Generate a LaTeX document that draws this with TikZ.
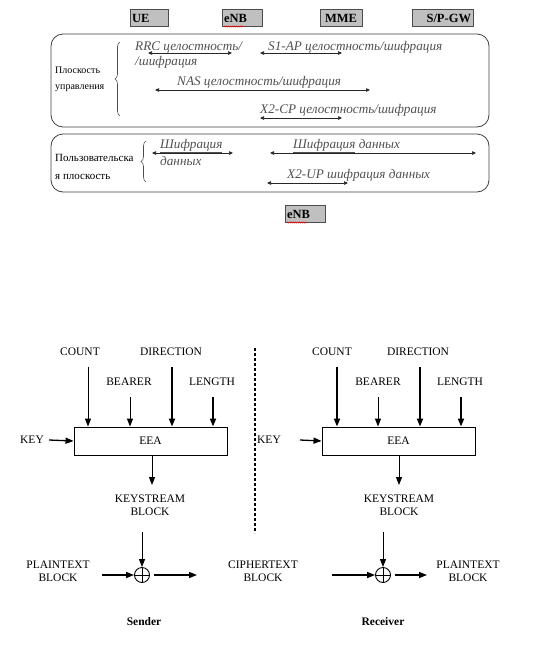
\documentclass[tikz,border=0pt]{standalone}
\usepackage{fontspec}
\setmainfont{Liberation Serif}
\usetikzlibrary{arrows.meta,decorations.pathreplacing,decorations.pathmorphing}
\definecolor{hdrgray}{HTML}{C0C0C0}
\definecolor{lblgray}{HTML}{505050}
\tikzset{
  hdr/.style={draw=black!70,fill=hdrgray,line width=0.8pt,minimum height=17pt,inner sep=2pt,font=\bfseries\fontsize{12.5}{12.5}\selectfont},
  planebox/.style={draw=black!75,line width=0.8pt,rounded corners=12pt},
  side/.style={font=\fontsize{10}{10}\selectfont,anchor=west,inner sep=0pt},
  sideu/.style={font=\fontsize{11}{11}\selectfont,anchor=west,inner sep=0pt},
  ital/.style={font=\itshape\fontsize{13.2}{13.2}\selectfont,text=lblgray,anchor=west,inner sep=0pt},
  darr/.style={{Triangle[length=4pt,width=3.5pt]}-{Triangle[length=4pt,width=3.5pt]},line width=0.7pt,black!85},
  brc/.style={decorate,decoration={brace,amplitude=5pt},line width=0.6pt,black!70},
  bt/.style={font=\fontsize{11.5}{13}\selectfont,align=center,inner sep=0pt},
  eea/.style={draw,line width=0.9pt,minimum width=153pt,minimum height=28pt,font=\fontsize{11.5}{12}\selectfont},
  thinar/.style={-{Triangle[length=8pt,width=6pt]},line width=1pt},
  thickar/.style={-{Triangle[length=8pt,width=6pt]},line width=1.8pt},
  xorc/.style={draw,circle,line width=0.9pt,minimum size=15pt,inner sep=0pt},
  squig/.style={red,line width=0.5pt,decorate,decoration={snake,amplitude=0.6pt,segment length=2pt}},
  role/.style={font=\bfseries\fontsize{11.5}{11.5}\selectfont}
}
\begin{document}
\begin{tikzpicture}[x=1pt,y=-1pt]
\useasboundingbox (0,0) rectangle (544,659);
% ---------- top section ----------
\node[hdr,text width=34pt,align=left] (ue) at (149,18) {UE};
\node[hdr,text width=36pt,align=left] (enb) at (242,18) {eNB};
\node[hdr,text width=38pt,align=center] (mme) at (341,18) {MME};
\node[hdr,text width=57pt,align=right] (gw) at (442.5,18) {S/P-GW};
\draw[squig] (224,26.5) -- (244,26.5);

\draw[planebox] (51,34) rectangle (489,127);
\node[side] (cp1) at (55,70) {Плоскость};
\node[side] (cp2) at (55,88) {управления};
\draw[brc] (120,116) -- (120,42);

\node[ital] (rrc1) at (135,47) {RRC целостность/};
\node[ital] (rrc2) at (135,62) {/шифрация};
\coordinate (rrcA) at (148,53); \coordinate (rrcB) at (232,53);
\draw[darr] (rrcA) -- (rrcB);

\node[ital] (s1) at (268,47) {S1-AP целостность/шифрация};
\coordinate (s1A) at (260,53); \coordinate (s1B) at (342,53);
\draw[darr] (s1A) -- (s1B);

\node[ital] (nas) at (177,82) {NAS целостность/шифрация};
\coordinate (nasA) at (155,90); \coordinate (nasB) at (370,90);
\draw[darr] (nasA) -- (nasB);

\node[ital] (x2cp) at (260,110) {X2-CP целостность/шифрация};
\coordinate (x2A) at (260,118); \coordinate (x2B) at (342,118);
\draw[darr] (x2A) -- (x2B);

\draw[planebox] (51,134) rectangle (489,192);
\node[sideu] (up1) at (55,158) {Пользовательска};
\node[sideu] (up2) at (55,177) {я плоскость};
\draw[brc] (146,182) -- (146,141);

\node[ital] (sh1) at (160,146) {\underline{Шифрация}};
\node[ital] (sh2) at (160,161) {данных};
\coordinate (shA) at (152,153); \coordinate (shB) at (233,153);
\draw[darr] (shA) -- (shB);

\node[ital] (sh3) at (293,146) {\underline{Шифрация} данных};
\coordinate (sh3A) at (270,153); \coordinate (sh3B) at (476,153);
\draw[darr] (sh3A) -- (sh3B);

\node[ital] (x2up) at (287,175) {X2-UP шифрация данных};
\coordinate (x2uA) at (267,183); \coordinate (x2uB) at (348,183);
\draw[darr] (x2uA) -- (x2uB);

\node[hdr,text width=36pt,align=left] (enb2) at (305,214) {eNB};
\draw[squig] (287,222.5) -- (307,222.5);

% ---------- bottom section: sender ----------
\node[eea] (eeaS) at (150.5,441) {EEA};
\node[bt] (countS) at (80,352) {COUNT};
\node[bt] (dirS) at (171,352) {DIRECTION};
\node[bt] (bearS) at (129,382) {BEARER};
\node[bt] (lenS) at (212,382) {LENGTH};
\node[bt] (keyS) at (32,440) {KEY};
\coordinate (cS) at (88,367); \coordinate (bS) at (130,397);
\coordinate (dS) at (172,367); \coordinate (lS) at (213,397);
\draw[thinar] (cS) -- (cS |- eeaS.north);
\draw[thinar] (bS) -- (bS |- eeaS.north);
\draw[thickar] (dS) -- (dS |- eeaS.north);
\draw[thickar] (lS) -- (lS |- eeaS.north);
\draw[thinar,line width=1.3pt] (keyS.east) ++(5,0) -- (eeaS.west);
\node[bt] (ksS) at (150,505) {KEYSTREAM\\BLOCK};
\draw[thinar] (eeaS.south -| 152,0) -- (152,485);

\node[xorc] (xorS) at (142,575) {};
\draw[line width=0.8pt] (xorS.north) -- (xorS.south) (xorS.west) -- (xorS.east);
\coordinate (ksSo) at (142,532);
\draw[thinar] (ksSo) -- (xorS.north);
\node[bt] (ptS) at (58,571) {PLAINTEXT\\BLOCK};
\draw[thinar,line width=1.3pt] (102,575) -- (xorS.west);
\node[bt] (ct) at (263,571) {CIPHERTEXT\\BLOCK};
\coordinate (ctIn) at (197,575);
\draw[thinar,line width=1.3pt] (xorS.east) ++(4,0) -- (ctIn);
\node[role] (sender) at (144,622) {Sender};

% dashed divider
\coordinate (dvT) at (255,348); \coordinate (dvB) at (255,533);
\draw[dashed,line width=1.2pt,dash pattern=on 3pt off 2pt] (dvT) -- (dvB);

% ---------- receiver ----------
\node[eea] (eeaR) at (398.5,441) {EEA};
\node[bt] (countR) at (332,352) {COUNT};
\node[bt] (dirR) at (418,352) {DIRECTION};
\node[bt] (bearR) at (378,382) {BEARER};
\node[bt] (lenR) at (460,382) {LENGTH};
\node[bt] (keyR) at (269,440) {KEY};
\coordinate (cR) at (337,367); \coordinate (bR) at (378,397);
\coordinate (dR) at (420,367); \coordinate (lR) at (461,397);
\draw[thickar] (cR) -- (cR |- eeaR.north);
\draw[thinar] (bR) -- (bR |- eeaR.north);
\draw[thickar] (dR) -- (dR |- eeaR.north);
\draw[thickar] (lR) -- (lR |- eeaR.north);
\coordinate (kRin) at (300,440);
\draw[thinar,line width=1.3pt] (kRin) -- (eeaR.west);
\node[bt] (ksR) at (399,505) {KEYSTREAM\\BLOCK};
\draw[thinar] (eeaR.south -| 399,0) -- (399,485);

\node[xorc] (xorR) at (383,575) {};
\draw[line width=0.8pt] (xorR.north) -- (xorR.south) (xorR.west) -- (xorR.east);
\coordinate (ksRo) at (383,532);
\draw[thinar] (ksRo) -- (xorR.north);
\coordinate (ctOut) at (332,575);
\draw[thinar,line width=1.3pt] (ctOut) -- (xorR.west);
\node[bt] (ptR) at (468,571) {PLAINTEXT\\BLOCK};
\draw[thinar,line width=1.3pt] (xorR.east) ++(4,0) -- (427,575);
\node[role] (receiver) at (383,622) {Receiver};
\end{tikzpicture}
\end{document}
